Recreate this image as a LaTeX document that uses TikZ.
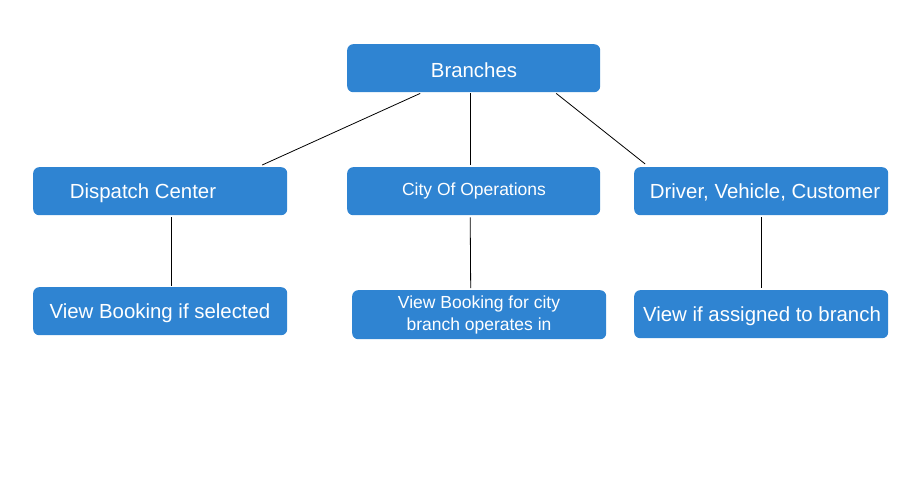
\documentclass[tikz,border=0pt]{standalone}
\usepackage{fontspec}
\setmainfont{Liberation Sans}
\definecolor{boxblue}{RGB}{47,132,210}
\tikzset{
  bx/.style={draw=none, fill=boxblue, rounded corners=6pt, text=white, inner sep=0pt, anchor=north west, align=center},
  big/.style={font=\fontsize{20.4}{23}\selectfont},
  small/.style={font=\fontsize{17.5}{21.7}\selectfont},
  conn/.style={draw=black, line width=0.8pt}
}
\begin{document}
\begin{tikzpicture}[x=1pt,y=-1pt]
\useasboundingbox (0,0) rectangle (908,482);
\node[bx, minimum width=253pt, minimum height=48pt] (b) at (347,44) {};
\node[big, text=white] (bt) at (474,70) {Branches};
\node[bx, minimum width=254pt, minimum height=48pt] (d) at (33,167) {};
\node[big, text=white] (dt) at (143,193) {Dispatch Center};
\node[bx, minimum width=253pt, minimum height=48pt] (c) at (347,167) {};
\node[small, text=white] (ct) at (474,191) {City Of Operations};
\node[bx, minimum width=254pt, minimum height=48pt] (v) at (634,167) {};
\node[big, text=white] (vt) at (765,192) {Driver, Vehicle, Customer};
\node[bx, minimum width=254pt, minimum height=48pt] (d2) at (33,287) {};
\node[big, text=white] (d2t) at (160,313) {View Booking if selected};
\node[bx, minimum width=254pt, minimum height=49pt] (c2) at (352,290) {};
\node[small, text=white, align=center] (c2t) at (479,315) {View Booking for city\\branch operates in};
\node[bx, minimum width=254pt, minimum height=48pt] (v2) at (634,290) {};
\node[big, text=white] (v2t) at (762,316) {View if assigned to branch};
\draw[conn] ([xshift=-53.5pt,yshift=-1pt]b.south) -- ([xshift=102pt,yshift=2pt]d.north);
\draw[conn] ([xshift=-3.5pt,yshift=-1pt]b.south) -- ([xshift=-3.5pt,yshift=2pt]c.north);
\draw[conn] ([xshift=82.5pt,yshift=-1pt]b.south) -- ([xshift=-116pt,yshift=3pt]v.north);
\draw[conn] ([xshift=11pt,yshift=-2pt]d.south) -- ([xshift=11pt,yshift=1pt]d2.north);
\draw[conn] ([xshift=-3.5pt,yshift=-2pt]c.south) -- ([xshift=-8.5pt,yshift=2pt]c2.north);
\draw[conn] ([yshift=-2pt]v.south) -- ([xshift=0pt,yshift=2pt]v2.north);
\end{tikzpicture}
\end{document}
